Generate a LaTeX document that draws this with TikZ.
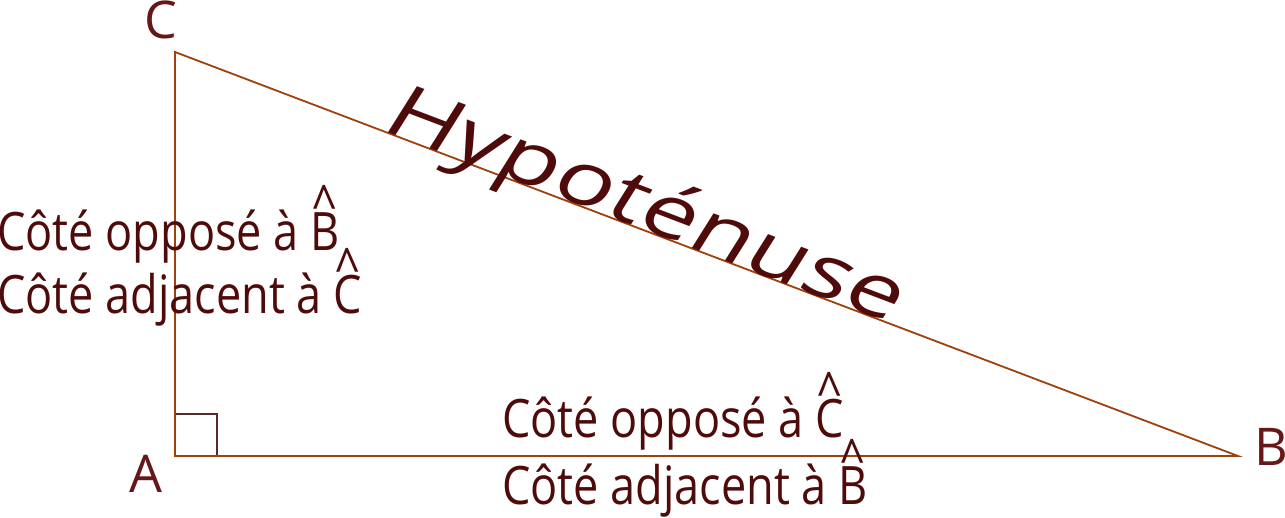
\documentclass[tikz,border=0pt]{standalone}
\usepackage{fontspec}
\setmainfont{Open Sans}
\newcommand\hatl[1]{\ooalign{#1\cr\hidewidth\raisebox{0.50em}{\textasciicircum}\hidewidth\cr}}
\definecolor{linec}{HTML}{A0400A}
\definecolor{textc}{HTML}{4F0A0A}
\definecolor{vertc}{HTML}{661818}
\definecolor{sqc}{HTML}{5A2A2A}
\tikzset{
  side/.style={draw=linec, line width=1.8pt},
  lbl/.style={text=textc, inner sep=0pt, anchor=base west, font=\fontsize{53}{63}\selectfont, xscale=0.85, transform shape},
  vert/.style={text=vertc, inner sep=0pt, font=\fontsize{52}{60}\selectfont},
  hyp/.style={text=textc, inner sep=0pt, anchor=base west, font=\fontsize{75}{80}\selectfont, rotate=-20.81, xslant=0.2, xscale=1.29, transform shape}
}
\begin{document}
\begin{tikzpicture}[x=1pt, y=-1pt]
\useasboundingbox (0,0) rectangle (1285,517);
\coordinate (A) at (175,456);
\coordinate (B) at (1238,456);
\coordinate (C) at (175,52);
\draw[draw=sqc, line width=1.5pt] (A) ++(0,-42) coordinate (s1) -- ++(42,0) coordinate (s2) -- ++(0,42);
\draw[side, line join=miter] (A) -- (B) -- (C) -- cycle;
\node[vert, anchor=base] (lA) at (146,492) {A};
\node[vert, anchor=base] (lB) at (1271,465) {B};
\node[vert, anchor=base] (lC) at (161,38) {C};
\node[hyp] (hyp) at (379,129) {Hypoténuse};
\node[lbl] (l1) at (-3,250) {Côté opposé à \hatl{B}};
\node[lbl] (l2) at (-3,313) {Côté adjacent à \hatl{C}};
\node[lbl] (b1) at (502,437) {Côté opposé à \hatl{C}};
\node[lbl] (b2) at (502,504) {Côté adjacent à \hatl{B}};
\end{tikzpicture}
\end{document}
